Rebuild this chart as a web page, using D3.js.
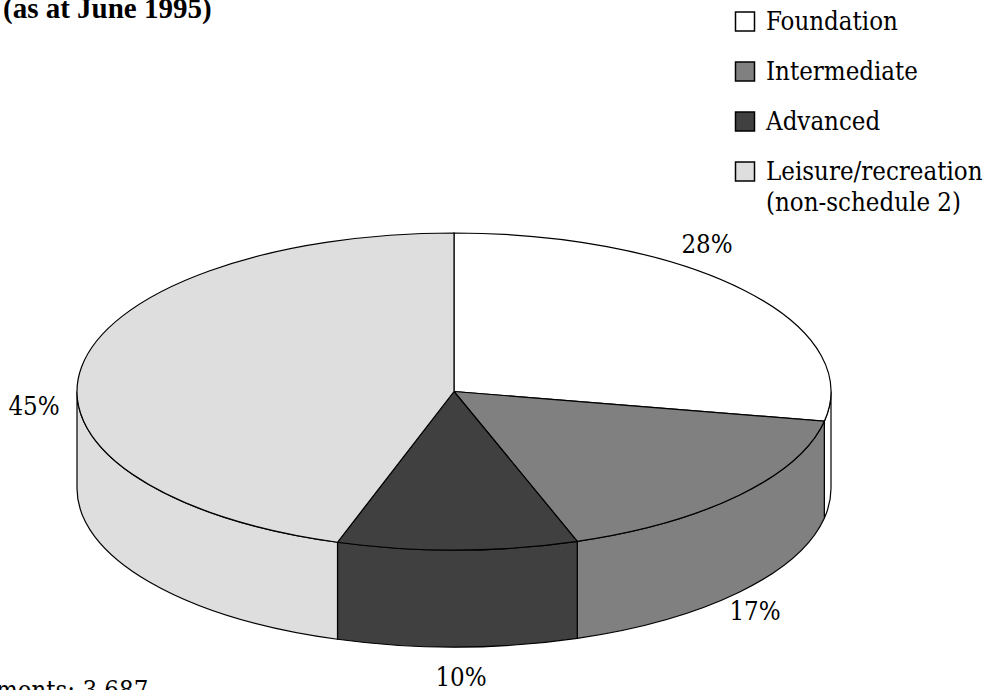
<!DOCTYPE html>
<html>
<head>
<meta charset="utf-8">
<script src="https://cdn.jsdelivr.net/npm/d3@7"></script>
<style>
body { margin: 0; background: #fff; overflow: hidden; }
text { font-family: "DejaVu Serif Condensed", "DejaVu Serif", serif; font-stretch: condensed; font-size: 25.6px; fill: #000; }
</style>
</head>
<body>
<div id="chart"></div>
<script>
var categories = ["Foundation", "Intermediate", "Advanced", "Leisure/recreation"];
var values = [28, 16.7, 10.3, 45];
var pctLabels = ["28%", "17%", "10%", "45%"];
var colours = ["#ffffff", "#808080", "#404040", "#dedede"];

var width = 987,
    height = 690,
    cx = 454,
    cy = 391.5,
    rx = 377,
    ry = 158.5,
    depth = 97;

var svg = d3.select("#chart").append("svg")
    .attr("width", width)
    .attr("height", height);

var pie = d3.pie().sort(null);
var slices = pie(values);

function px(a) { return cx + rx * Math.sin(a); }
function py(a) { return cy - ry * Math.cos(a); }

function topPath(d) {
    var large = d.endAngle - d.startAngle > Math.PI ? 1 : 0;
    return "M" + cx + "," + cy + "L" + px(d.startAngle) + "," + py(d.startAngle)
        + "A" + rx + "," + ry + " 0 " + large + " 1 " + px(d.endAngle) + "," + py(d.endAngle) + "Z";
}

// only the front half of the wall can be seen
function sidePath(d) {
    var a0 = Math.max(d.startAngle, Math.PI / 2),
        a1 = Math.min(d.endAngle, Math.PI * 1.5);
    if (a1 <= a0) return null;
    return "M" + px(a0) + "," + py(a0)
        + "A" + rx + "," + ry + " 0 0 1 " + px(a1) + "," + py(a1)
        + "L" + px(a1) + "," + (py(a1) + depth)
        + "A" + rx + "," + ry + " 0 0 0 " + px(a0) + "," + (py(a0) + depth) + "Z";
}

svg.append("g").selectAll("path")
    .data(slices)
    .enter()
    .append("path")
    .attr("d", sidePath)
    .attr("fill", function(d, i) { return colours[i]; })
    .attr("stroke", "#000")
    .attr("stroke-width", 1.2);

svg.append("g").selectAll("path")
    .data(slices)
    .enter()
    .append("path")
    .attr("d", topPath)
    .attr("fill", function(d, i) { return colours[i]; })
    .attr("stroke", "#000")
    .attr("stroke-width", 1.2);

// percent labels sit where the original put them
var labelPos = [[707, 253], [755, 620], [461, 686], [34, 415]];
svg.append("g").selectAll("text")
    .data(pctLabels)
    .enter()
    .append("text")
    .attr("x", function(d, i) { return labelPos[i][0]; })
    .attr("y", function(d, i) { return labelPos[i][1]; })
    .attr("text-anchor", "middle")
    .text(function(d) { return d; });

var legend = svg.append("g");
var legendY = d3.scalePoint().domain(categories).range([22, 172]);

legend.selectAll("rect")
    .data(categories)
    .enter()
    .append("rect")
    .attr("x", 735.5)
    .attr("y", function(d) { return legendY(d) - 10; })
    .attr("width", 19)
    .attr("height", 19)
    .attr("fill", function(d, i) { return colours[i]; })
    .attr("stroke", "#000")
    .attr("stroke-width", 1.5);

legend.selectAll("text")
    .data(categories)
    .enter()
    .append("text")
    .attr("x", 766)
    .attr("y", function(d) { return legendY(d) + 8; })
    .text(function(d) { return d; });

legend.append("text").attr("x", 766).attr("y", 211).text("(non-schedule 2)");

svg.append("text")
    .attr("x", 3)
    .attr("y", 18)
    .style("font-family", "'Liberation Serif', serif")
    .style("font-stretch", "normal")
    .style("font-weight", "bold")
    .style("font-size", "29px")
    .text("(as at June 1995)");

svg.append("text")
    .attr("x", -4)
    .attr("y", 699)
    .text("ments: 3,687");
</script>
</body>
</html>
